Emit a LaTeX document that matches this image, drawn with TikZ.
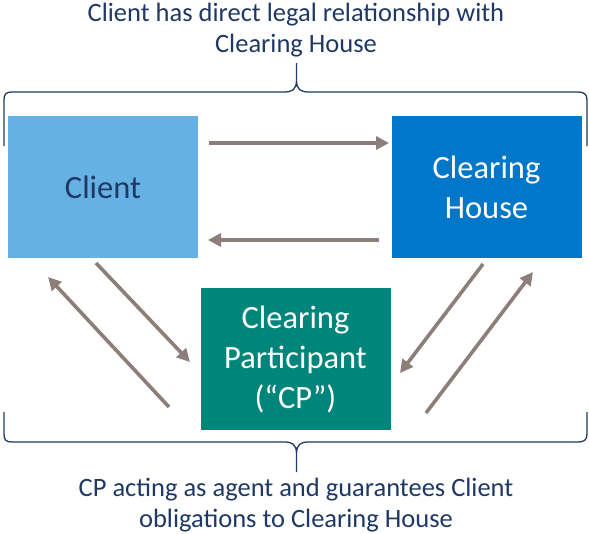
\documentclass[tikz,border=0pt]{standalone}
\usepackage{fontspec}
\setmainfont{Carlito}
\usetikzlibrary{arrows.meta}
\definecolor{clientc}{HTML}{65B1E4}
\definecolor{chc}{HTML}{0077C8}
\definecolor{cpc}{HTML}{00857A}
\definecolor{navy}{HTML}{1F3864}
\definecolor{arrc}{HTML}{8C7E78}
\tikzset{
  box/.style={draw=none, minimum width=190pt, minimum height=142pt, inner sep=0pt, align=center,
    font=\fontsize{32.5}{40}\selectfont},
  flow/.style={draw=arrc, line width=3.6pt, -{Triangle[length=13pt,width=13pt]}},
  brace/.style={draw=navy, line width=1.3pt},
  caption/.style={text=navy, align=center, font=\fontsize{26.5}{31}\selectfont}
}
\begin{document}
\begin{tikzpicture}[x=1pt,y=-1pt]
\useasboundingbox (0,0) rectangle (589,533);
\node[box, fill=clientc, text=navy] (client) at (103,187) {Client};
\node[box, fill=chc, text=white] (ch) at (486.5,187) {Clearing\\House};
\node[box, fill=cpc, text=white] (cp) at (295.5,359) {Clearing\\Participant\\(“CP”)};
\node[caption] (top) at (296,30) {Client has direct legal relationship with\\Clearing House};
\node[caption] (bot) at (296,505) {CP acting as agent and guarantees Client\\obligations to Clearing House};
% arrow end points
\coordinate (a1s) at (209,143); \coordinate (a1e) at (389,143);
\coordinate (a2s) at (379,240); \coordinate (a2e) at (208,240);
\coordinate (a3s) at (96,263); \coordinate (a3e) at (190,362);
\coordinate (a4s) at (169,407); \coordinate (a4e) at (48,277);
\coordinate (a5s) at (483,264); \coordinate (a5e) at (400,373);
\coordinate (a6s) at (426,413); \coordinate (a6e) at (533,272);
\draw[flow] (a1s) -- (a1e);
\draw[flow] (a2s) -- (a2e);
\draw[flow] (a3s) -- (a3e);
\draw[flow] (a4s) -- (a4e);
\draw[flow] (a5s) -- (a5e);
\draw[flow] (a6s) -- (a6e);
% top brace
\coordinate (tb) at (296.5,63);
\draw[brace] (4,146) -- (4,100) .. controls (4,94) and (6,92) .. (12,92) -- (284,92)
  .. controls (292,92) and (296.5,90) .. (296.5,80) -- (tb) -- (296.5,80)
  .. controls (296.5,90) and (301,92) .. (309,92) -- (578,92)
  .. controls (584,92) and (587,94) .. (587,100) -- (587,146);
% bottom brace
\coordinate (bb) at (296.5,472);
\draw[brace] (4,412) -- (4,434) .. controls (4,440) and (6,442) .. (12,442) -- (284,442)
  .. controls (292,442) and (296.5,444) .. (296.5,454) -- (bb) -- (296.5,454)
  .. controls (296.5,444) and (301,442) .. (309,442) -- (578,442)
  .. controls (584,442) and (587,440) .. (587,434) -- (587,412);
\end{tikzpicture}
\end{document}
